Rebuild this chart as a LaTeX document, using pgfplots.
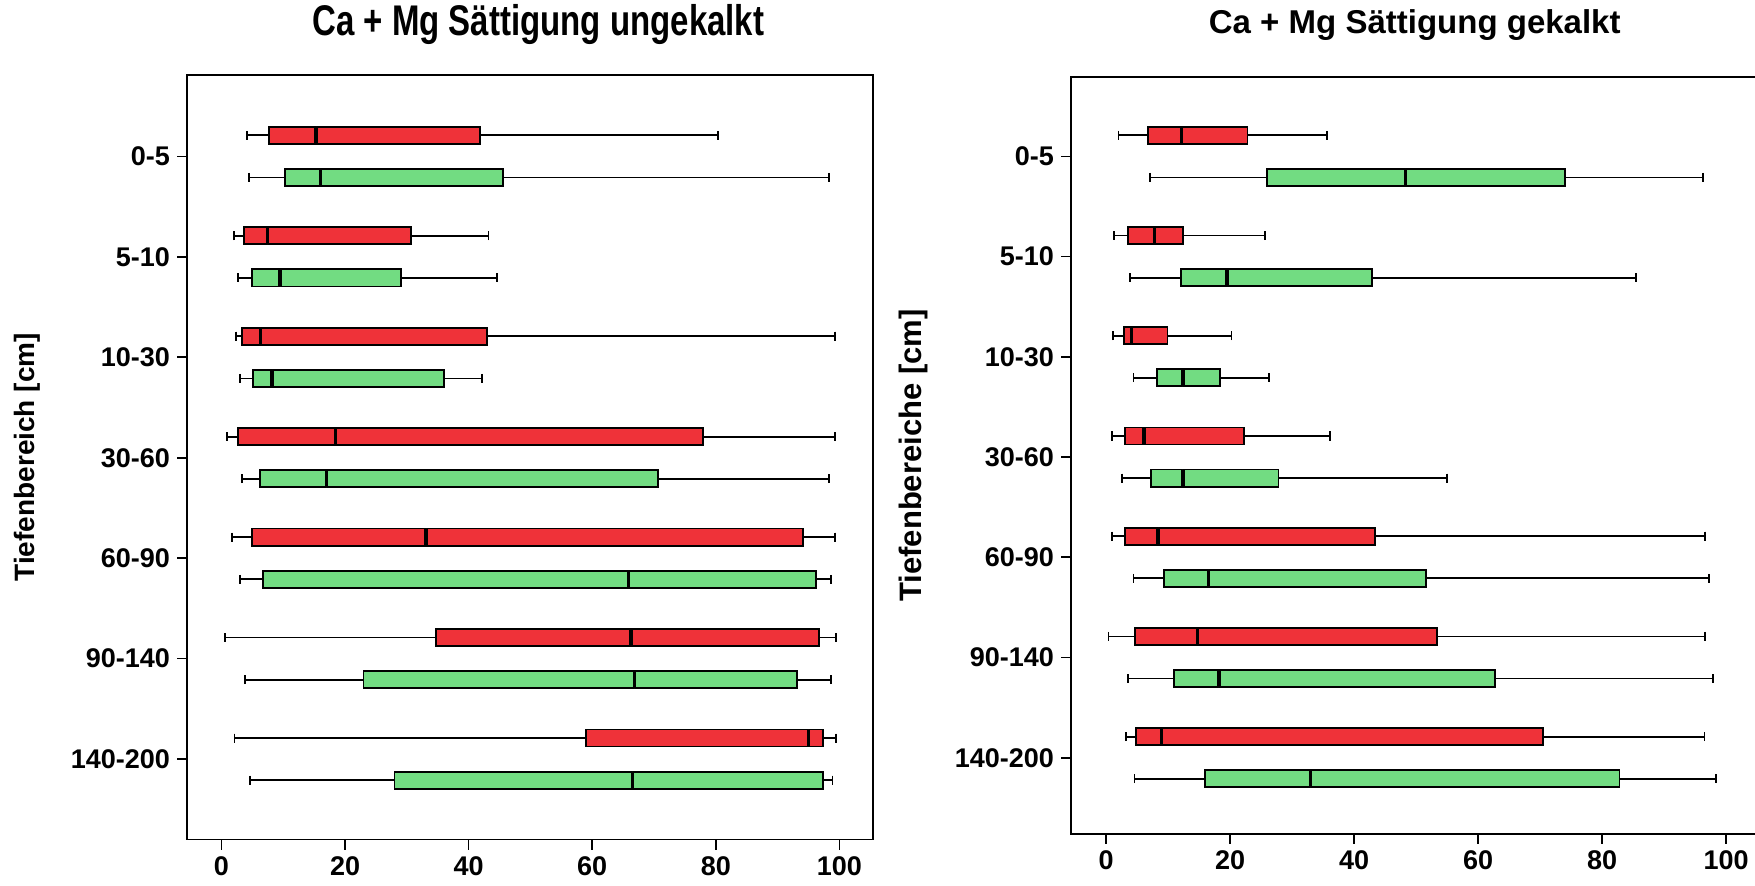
\documentclass[border=0pt]{standalone}
\usepackage{fontspec}
\setmainfont{Liberation Sans}
\usepackage{pgfplots}
\pgfplotsset{compat=1.18}
\usepgfplotslibrary{statistics}
\definecolor{boxred}{RGB}{239,50,57}
\definecolor{boxgreen}{RGB}{114,220,130}
\newcommand{\bx}[7]{\addplot[draw=black, fill=#7, line width=0.9bp,
  boxplot prepared={draw position=#1, lower whisker=#2, lower quartile=#3,
  median=#4, upper quartile=#5, upper whisker=#6}] coordinates {};}
\pgfplotsset{base/.style={
  scale only axis, y dir=reverse,
  ytick={0,1,2,3,4,5,6},
  yticklabels={0-5,5-10,10-30,30-60,60-90,90-140,140-200},
  xtick={0,20,40,60,80,100},
  tick align=outside, xtick pos=bottom, ytick pos=left,
  major tick length=5bp,
  every tick/.style={black, line width=0.8bp},
  axis line style={line width=0.8bp},
  tick label style={font=\fontsize{13.5bp}{16bp}\selectfont\bfseries},
  /pgf/number format/assume math mode=true,
  every axis title shift=0pt,
  title style={font=\fontsize{16.5bp}{19bp}\selectfont\bfseries, anchor=center},
  boxplot/box extend=0.17,
  boxplot/whisker extend=0.09,
  boxplot/every whisker/.style={line width=0.85bp},
  boxplot/every median/.style={line width=1.7bp},
  boxplot/every box/.style={line width=0.9bp},
}}
\begin{document}
\begin{tikzpicture}
\path[use as bounding box] (0,0) rectangle (877.5bp,443bp);
% left panel
\begin{axis}[base, at={(93.5bp,23.25bp)}, anchor=south west,
  width=343bp, height=382.25bp,
  xmin=-5.58, xmax=105.44, ymin=-0.81, ymax=6.8,
  title={Ca + Mg Sättigung ungekalkt},
  title style={at={(axis description cs:0.512,1.066)}, yscale=1.3},
  ylabel={Tiefenbereich [cm]},
  ylabel style={at={(axis description cs:-0.233,0.5)}, anchor=center,
    font=\fontsize{14bp}{16bp}\selectfont\bfseries}]
\bx{-0.21}{4.1}{7.7}{15.3}{41.8}{80.3}{boxred}
\bx{0.21}{4.5}{10.3}{16.0}{45.6}{98.3}{boxgreen}
\bx{0.79}{2.0}{3.7}{7.4}{30.7}{43.2}{boxred}
\bx{1.21}{2.7}{4.9}{9.5}{29.1}{44.6}{boxgreen}
\bx{1.79}{2.4}{3.3}{6.3}{43.0}{99.3}{boxred}
\bx{2.21}{3.0}{5.1}{8.2}{36.0}{42.2}{boxgreen}
\bx{2.79}{0.9}{2.7}{18.5}{77.9}{99.3}{boxred}
\bx{3.21}{3.3}{6.2}{17.0}{70.7}{98.3}{boxgreen}
\bx{3.79}{1.7}{4.9}{33.1}{94.1}{99.3}{boxred}
\bx{4.21}{3.0}{6.7}{65.9}{96.2}{98.6}{boxgreen}
\bx{4.79}{0.6}{34.7}{66.3}{96.7}{99.4}{boxred}
\bx{5.21}{3.8}{23.0}{66.8}{93.1}{98.6}{boxgreen}
\bx{5.79}{2.1}{59.0}{95.0}{97.3}{99.4}{boxred}
\bx{6.21}{4.6}{28.0}{66.5}{97.4}{98.9}{boxgreen}
\end{axis}
% right panel
\begin{axis}[base, at={(535.5bp,26.05bp)}, anchor=south west,
  width=346.5bp, height=378.35bp,
  xmin=-5.66, xmax=106.1, ymin=-0.79, ymax=6.76,
  title={Ca + Mg Sättigung gekalkt},
  title style={at={(axis description cs:0.496,1.0695)}},
  ylabel={Tiefenbereiche [cm]},
  ylabel style={at={(axis description cs:-0.228,0.5)}, anchor=center,
    font=\fontsize{15.5bp}{18bp}\selectfont\bfseries}]
\bx{-0.21}{2.0}{6.8}{12.2}{22.8}{35.6}{boxred}
\bx{0.21}{7.1}{25.9}{48.3}{74.0}{96.3}{boxgreen}
\bx{0.79}{1.3}{3.5}{7.8}{12.4}{25.6}{boxred}
\bx{1.21}{3.9}{12.1}{19.5}{42.9}{85.5}{boxgreen}
\bx{1.79}{1.1}{2.9}{4.1}{9.9}{20.2}{boxred}
\bx{2.21}{4.4}{8.2}{12.4}{18.4}{26.3}{boxgreen}
\bx{2.79}{0.9}{3.1}{6.1}{22.2}{36.1}{boxred}
\bx{3.21}{2.6}{7.2}{12.4}{27.8}{55.0}{boxgreen}
\bx{3.79}{0.9}{3.0}{8.4}{43.3}{96.6}{boxred}
\bx{4.21}{4.4}{9.4}{16.5}{51.6}{97.2}{boxgreen}
\bx{4.79}{0.4}{4.7}{14.7}{53.4}{96.6}{boxred}
\bx{5.21}{3.5}{11.0}{18.2}{62.7}{97.9}{boxgreen}
\bx{5.79}{3.2}{4.8}{8.9}{70.4}{96.5}{boxred}
\bx{6.21}{4.6}{15.9}{33.0}{82.8}{98.4}{boxgreen}
\end{axis}
\end{tikzpicture}
\end{document}
